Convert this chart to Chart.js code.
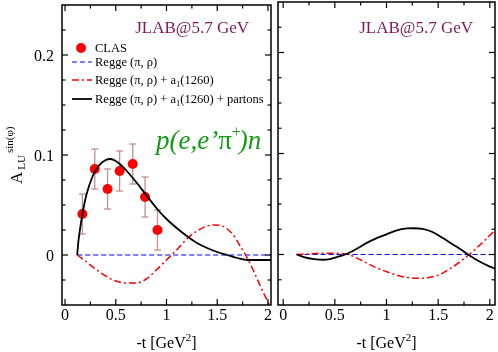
<!DOCTYPE html>
<html><head><meta charset="utf-8">
<script src="https://cdn.jsdelivr.net/npm/chart.js@4.4.0/dist/chart.umd.min.js"></script>
<style>
html,body{margin:0;padding:0;background:#fff;}
#wrap{position:relative;width:498px;height:352px;background:#fff;}
.c{position:absolute;top:0;height:352px;}
</style></head><body>
<div id="wrap">
<div class="c" style="left:0;width:276px"><canvas id="cL"></canvas></div>
<div class="c" style="left:276px;width:222px"><canvas id="cR"></canvas></div>
</div>
<script>
// ---------- data ----------
const clasT   = [0.171, 0.293, 0.419, 0.538, 0.667, 0.789, 0.911];
const clasA   = [0.041, 0.086, 0.066, 0.084, 0.091, 0.058, 0.025];
const clasErr = [0.020, 0.020, 0.020, 0.020, 0.020, 0.020, 0.020];

// pi+ panel curves
const plusReggeT = [0.12, 2.03];
const plusReggeA = [0, 0];
const plusA1T = [0.12, 0.2, 0.3, 0.4, 0.5, 0.6, 0.7, 0.8, 0.9, 1.0, 1.05, 1.1, 1.2, 1.3, 1.4, 1.47, 1.55, 1.65, 1.72, 1.78, 1.85, 1.92, 2.0, 2.03];
const plusA1A = [0, -0.006, -0.014, -0.021, -0.026, -0.028, -0.028, -0.024, -0.015, -0.005, 0, 0.005, 0.016, 0.024, 0.029, 0.030, 0.029, 0.021, 0.010, 0, -0.014, -0.030, -0.047, -0.053];
const plusPartT = [0.12, 0.13, 0.145, 0.177, 0.21, 0.273, 0.33, 0.40, 0.45, 0.50, 0.55, 0.60, 0.70, 0.80, 0.90, 1.00, 1.10, 1.20, 1.30, 1.40, 1.50, 1.60, 1.70, 1.80, 1.90, 2.03];
const plusPartA = [0, 0.012, 0.024, 0.044, 0.060, 0.079, 0.089, 0.095, 0.096, 0.094, 0.090, 0.085, 0.073, 0.060, 0.047, 0.036, 0.027, 0.019, 0.012, 0.007, 0.003, 0.000, -0.003, -0.005, -0.005, -0.005];

// pi- panel curves
const minusReggeT = [0.13, 2.05];
const minusReggeA = [0, 0];
const minusA1T = [0.13, 0.25, 0.4, 0.52, 0.63, 0.7, 0.8, 0.9, 1.0, 1.1, 1.2, 1.32, 1.4, 1.5, 1.6, 1.7, 1.8, 1.9, 2.0, 2.05];
const minusA1A = [0, 0.0006, 0.0013, 0.0012, 0, -0.003, -0.008, -0.013, -0.017, -0.0205, -0.0228, -0.0235, -0.023, -0.0205, -0.015, -0.008, 0, 0.009, 0.019, 0.024];
const minusPartT = [0.13, 0.2, 0.3, 0.39, 0.45, 0.52, 0.6, 0.7, 0.8, 0.9, 1.0, 1.1, 1.2, 1.26, 1.35, 1.45, 1.55, 1.65, 1.72, 1.79, 1.9, 2.0, 2.05];
const minusPartA = [0, -0.0025, -0.0045, -0.0052, -0.0045, -0.0025, 0, 0.005, 0.011, 0.016, 0.020, 0.024, 0.0258, 0.026, 0.0253, 0.022, 0.016, 0.0095, 0.005, 0, -0.007, -0.012, -0.014];

// ticks
const xTicks = [0, 0.5, 1, 1.5, 2];
const xTickLabels = ['0', '0.5', '1', '1.5', '2'];
const xMinor = [0.25, 0.75, 1.25, 1.75];
const yTicks = [0, 0.1, 0.2];
const yTickLabels = ['0', '0.1', '0.2'];
const yMinor = [-0.025, 0.025, 0.05, 0.075, 0.125, 0.15, 0.175, 0.225];

const legendLabels = ['CLAS', 'Regge (\u03c0, \u03c1)', 'Regge (\u03c0, \u03c1) + a', 'Regge (\u03c0, \u03c1) + a'];
const experiment = 'JLAB@5.7 GeV';

// ---------- helpers ----------
const SERIF = '"Liberation Serif", "Times New Roman", serif';
const pts = (t, a) => t.map((v, i) => ({x: v, y: a[i]}));
const DASH_BLUE = [5, 3];
const DASH_RED = [7, 3, 2, 3];

function lineDs(t, a, color, width, dash) {
  return {type: 'line', data: pts(t, a), showLine: true, borderColor: color, borderWidth: width,
    borderDash: dash || [], pointRadius: 0, fill: false, cubicInterpolationMode: 'monotone'};
}

function seg(ctx, x1, y1, x2, y2) { ctx.beginPath(); ctx.moveTo(x1, y1); ctx.lineTo(x2, y2); ctx.stroke(); }

function drawFrame(chart, withYLabels) {
  const {ctx, chartArea: a, scales: {x, y}} = chart;
  ctx.save();
  ctx.strokeStyle = '#000';
  ctx.lineWidth = 1.2;
  const maj = 6, mnr = 3.5;
  xTicks.forEach(v => { const p = x.getPixelForValue(v); seg(ctx, p, a.bottom, p, a.bottom - maj); seg(ctx, p, a.top, p, a.top + maj); });
  xMinor.forEach(v => { const p = x.getPixelForValue(v); seg(ctx, p, a.bottom, p, a.bottom - mnr); seg(ctx, p, a.top, p, a.top + mnr); });
  yTicks.forEach(v => { const p = y.getPixelForValue(v); seg(ctx, a.left, p, a.left + maj, p); seg(ctx, a.right, p, a.right - maj, p); });
  yMinor.forEach(v => { const p = y.getPixelForValue(v); seg(ctx, a.left, p, a.left + mnr, p); seg(ctx, a.right, p, a.right - mnr, p); });
  ctx.lineWidth = 1.5;
  ctx.strokeRect(a.left, a.top, a.right - a.left, a.bottom - a.top);

  ctx.fillStyle = '#000';
  ctx.font = '16px ' + SERIF;
  ctx.textAlign = 'center'; ctx.textBaseline = 'alphabetic';
  xTicks.forEach((v, i) => ctx.fillText(xTickLabels[i], x.getPixelForValue(v), 320));
  if (withYLabels) {
    ctx.textAlign = 'right';
    yTicks.forEach((v, i) => ctx.fillText(yTickLabels[i], 54, y.getPixelForValue(v) + 5.5));
  }
  // x title: -t [GeV^2]
  ctx.textAlign = 'left';
  ctx.font = '16px ' + SERIF;
  const t1 = '-t [GeV', t3 = ']';
  const w1 = ctx.measureText(t1).width, w3 = ctx.measureText(t3).width;
  ctx.font = '11px ' + SERIF;
  const w2 = ctx.measureText('2').width;
  let cx = (a.left + a.right) / 2 - (w1 + w2 + w3) / 2;
  ctx.font = '16px ' + SERIF; ctx.fillText(t1, cx, 348); cx += w1;
  ctx.font = '11px ' + SERIF; ctx.fillText('2', cx, 341); cx += w2;
  ctx.font = '16px ' + SERIF; ctx.fillText(t3, cx, 348);

  // experiment label
  ctx.fillStyle = '#7b1a5d';
  ctx.font = '17px ' + SERIF;
  ctx.textAlign = 'right';
  ctx.fillText(experiment, a.right - 22, 33);
  ctx.restore();
}

function reaction(ctx, x, y, before, sign, after) {
  const size = 27;
  ctx.save();
  ctx.fillStyle = '#169a16';
  ctx.textAlign = 'left'; ctx.textBaseline = 'alphabetic';
  ctx.font = 'italic ' + size + 'px ' + SERIF; ctx.fillText(before, x, y); x += ctx.measureText(before).width;
  ctx.font = size + 'px ' + SERIF; ctx.fillText('\u03c0', x, y); x += ctx.measureText('\u03c0').width;
  ctx.font = '16px ' + SERIF; ctx.fillText(sign, x, y - 12); x += ctx.measureText(sign).width - 2;
  ctx.font = 'italic ' + size + 'px ' + SERIF; ctx.fillText(after, x, y);
  ctx.restore();
}

const errorBars = {
  id: 'errorBars',
  beforeDatasetsDraw(chart) {
    const {ctx, scales: {x, y}} = chart;
    ctx.save();
    ctx.strokeStyle = '#c48d8d'; ctx.lineWidth = 1.3;
    clasT.forEach((t, i) => {
      const px = x.getPixelForValue(t);
      const lo = y.getPixelForValue(clasA[i] - clasErr[i]);
      const hi = y.getPixelForValue(clasA[i] + clasErr[i]);
      seg(ctx, px, lo, px, hi);
      seg(ctx, px - 3.5, lo, px + 3.5, lo);
      seg(ctx, px - 3.5, hi, px + 3.5, hi);
    });
    ctx.restore();
  }
};

const leftDecor = {
  id: 'leftDecor',
  afterDraw(chart) {
    const ctx = chart.ctx;
    drawFrame(chart, true);
    // y title: A_LU^{sin(phi)}
    ctx.save();
    ctx.fillStyle = '#000';
    ctx.translate(22, 184);
    ctx.rotate(-Math.PI / 2);
    ctx.textAlign = 'left'; ctx.textBaseline = 'alphabetic';
    ctx.font = '17px ' + SERIF; ctx.fillText('A', 0, 0);
    const wA = ctx.measureText('A').width;
    ctx.font = '11px ' + SERIF; ctx.fillText('LU', wA + 2, 3);
    const wLU = ctx.measureText('LU').width;
    ctx.fillText('sin(\u03c6)', wA + wLU + 4, -9);
    ctx.restore();

    // legend
    ctx.save();
    ctx.textAlign = 'left'; ctx.textBaseline = 'alphabetic';
    ctx.fillStyle = '#ff0000';
    ctx.beginPath(); ctx.arc(81, 48, 5, 0, Math.PI * 2); ctx.fill();
    ctx.lineWidth = 1.2; ctx.strokeStyle = '#0000ff'; ctx.setLineDash(DASH_BLUE); seg(ctx, 72, 62, 92, 62);
    ctx.lineWidth = 1.5; ctx.strokeStyle = '#ff0000'; ctx.setLineDash(DASH_RED); seg(ctx, 72, 80, 92, 80);
    ctx.lineWidth = 1.8; ctx.strokeStyle = '#000'; ctx.setLineDash([]); seg(ctx, 72, 99, 92, 99);
    ctx.fillStyle = '#000';
    const f = '12.5px ' + SERIF, fs = '8.5px ' + SERIF;
    const rowsY = [52, 66, 84, 103];
    ctx.font = f;
    ctx.fillText(legendLabels[0], 95, rowsY[0]);
    ctx.fillText(legendLabels[1], 95, rowsY[1]);
    [2, 3].forEach(r => {
      let x = 95;
      ctx.font = f; ctx.fillText(legendLabels[r], x, rowsY[r]); x += ctx.measureText(legendLabels[r]).width;
      ctx.font = fs; ctx.fillText('1', x, rowsY[r] + 3); x += ctx.measureText('1').width;
      const rest = r === 2 ? '(1260)' : '(1260) + partons';
      ctx.font = f; ctx.fillText(rest, x, rowsY[r]);
    });
    ctx.restore();
    reaction(ctx, 156, 149, 'p(e,e\u2019', '+', ')n');
  }
};

const rightDecor = {
  id: 'rightDecor',
  afterDraw(chart) {
    drawFrame(chart, false);
    reaction(chart.ctx, 370, 149, 'n(e,e\u2019', '\u2212', ')p');
  }
};

function opts(xmin, xmax, padding) {
  return {
    responsive: true, maintainAspectRatio: false, animation: false, devicePixelRatio: 1,
    layout: {padding},
    plugins: {legend: {display: false}, tooltip: {enabled: false}},
    scales: {
      x: {type: 'linear', min: xmin, max: xmax, display: false},
      y: {type: 'linear', min: -0.05, max: 0.25, display: false}
    }
  };
}

new Chart(document.getElementById('cL'), {
  type: 'scatter',
  data: {datasets: [
    lineDs(plusPartT, plusPartA, '#000000', 1.8),
    lineDs(plusA1T, plusA1A, '#ff0000', 1.5, DASH_RED),
    lineDs(plusReggeT, plusReggeA, '#0000ff', 1.2, DASH_BLUE),
    {type: 'scatter', data: pts(clasT, clasA), pointRadius: 5, pointBackgroundColor: '#ff0000', pointBorderColor: '#ff0000', pointBorderWidth: 0, showLine: false}
  ]},
  options: opts(-0.03, 2.03, {left: 62, right: 1, top: 2, bottom: 47}),
  plugins: [errorBars, leftDecor]
});

new Chart(document.getElementById('cR'), {
  type: 'scatter',
  data: {datasets: [
    lineDs(minusPartT, minusPartA, '#000000', 1.8),
    lineDs(minusA1T, minusA1A, '#ff0000', 1.5, DASH_RED),
    lineDs(minusReggeT, minusReggeA, '#0000ff', 1.2, DASH_BLUE)
  ]},
  options: opts(-0.05, 2.05, {left: 2, right: 3, top: 2, bottom: 47}),
  plugins: [rightDecor]
});
</script>
</body></html>
